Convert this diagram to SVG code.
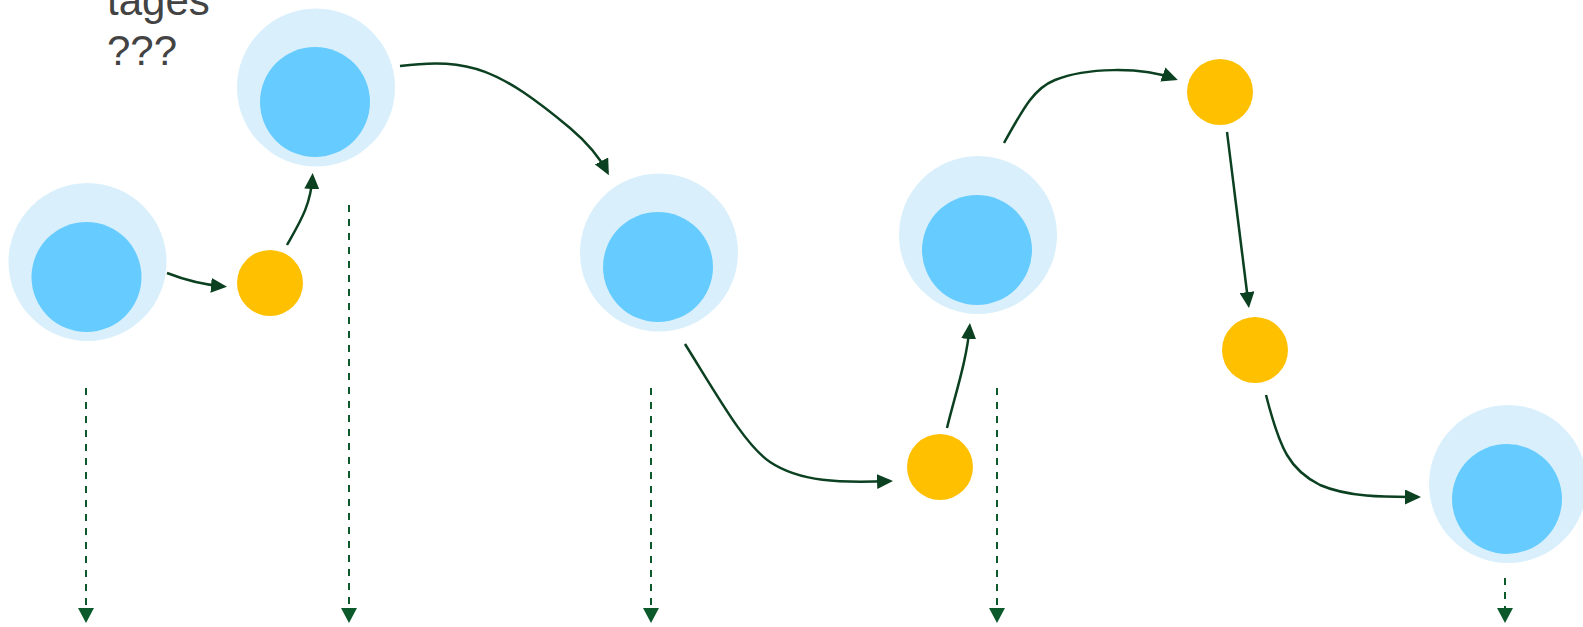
<svg xmlns="http://www.w3.org/2000/svg" width="1583" height="627" viewBox="0 0 1583 627">
<style>
.outer{fill:#d9f0fc}
.inner{fill:#66ccff}
.seed{fill:#ffc000}
.flow{fill:none;stroke:#0b4020;stroke-width:2.5}
.drop{fill:none;stroke:#0c5a2c;stroke-width:2;stroke-dasharray:7 7}
.lbl{font-family:"Liberation Sans",Arial,sans-serif;font-size:42px;fill:#434343}
</style>
<defs>
<marker id="ah" markerUnits="userSpaceOnUse" markerWidth="16" markerHeight="15" refX="13" refY="7.5" orient="auto">
<path d="M0,0 L16,7.5 L0,15 z" fill="#0b4020"/>
</marker>
<marker id="ahd" markerUnits="userSpaceOnUse" markerWidth="15" markerHeight="16" refX="12" refY="8" orient="auto">
<path d="M0,0 L15,8 L0,16 z" fill="#0c5a2c"/>
</marker>
</defs>
<rect width="1583" height="627" fill="#ffffff"/>
<g id="title">
<text class="lbl" x="107" y="15">tages</text>
<text class="lbl" x="107" y="65">???</text>
</g>
<g id="stage1"><circle class="outer" cx="87.5" cy="262" r="79"/><circle class="inner" cx="86.5" cy="277" r="55"/></g>
<g id="stage2"><circle class="outer" cx="316" cy="87.5" r="79"/><circle class="inner" cx="315" cy="102" r="55"/></g>
<g id="stage3"><circle class="outer" cx="659" cy="252.5" r="79"/><circle class="inner" cx="658" cy="267" r="55"/></g>
<g id="stage4"><circle class="outer" cx="978" cy="235" r="79"/><circle class="inner" cx="977" cy="250" r="55"/></g>
<g id="stage5"><circle class="outer" cx="1508" cy="484" r="79"/><circle class="inner" cx="1507" cy="499" r="55"/></g>
<g id="seed1"><circle class="seed" cx="270" cy="283" r="33"/></g>
<g id="seed2"><circle class="seed" cx="940" cy="467" r="33"/></g>
<g id="seed3"><circle class="seed" cx="1220" cy="92" r="33"/></g>
<g id="seed4"><circle class="seed" cx="1255" cy="350" r="33"/></g>
<g id="connectors">
<path class="flow" marker-end="url(#ah)" d="M167,273 Q195,284 224,286.5"/>
<path class="flow" marker-end="url(#ah)" d="M287,245 C300,222 311,205 312.5,176"/>
<path class="flow" marker-end="url(#ah)" d="M400,66 C470,57 500,70 570,128 C590,145 600,158 607.5,172.5"/>
<path class="flow" marker-end="url(#ah)" d="M685,344 C720,400 745,445 770,462 C800,482 840,483 890,481"/>
<path class="flow" marker-end="url(#ah)" d="M947,428 C955,395 967,360 969.7,326"/>
<path class="flow" marker-end="url(#ah)" d="M1004,143 C1025,105 1035,88 1055,80 C1085,68 1140,66 1175,79"/>
<path class="flow" marker-end="url(#ah)" d="M1227,132 L1248.6,305"/>
<path class="flow" marker-end="url(#ah)" d="M1266,395 C1280,450 1290,470 1320,485 C1350,498 1390,497 1418,497"/>
<path class="drop" marker-end="url(#ahd)" d="M86,388 L86,620"/>
<path class="drop" marker-end="url(#ahd)" d="M349,205 L349,620"/>
<path class="drop" marker-end="url(#ahd)" d="M651,388 L651,620"/>
<path class="drop" marker-end="url(#ahd)" d="M997,388 L997,620"/>
<path class="drop" marker-end="url(#ahd)" d="M1505,578 L1505,620"/>
</g>
</svg>
